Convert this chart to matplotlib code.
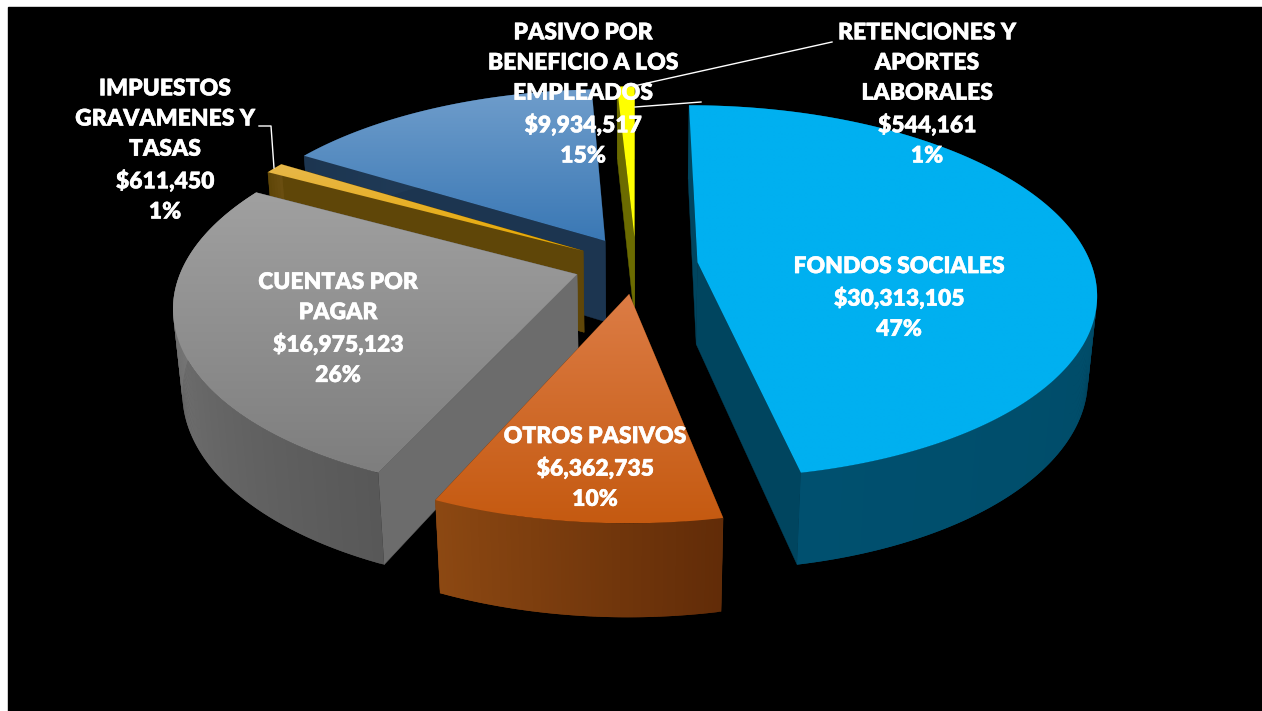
# plot.py
import numpy as np
import matplotlib
matplotlib.use("Agg")
import matplotlib.pyplot as plt
import matplotlib.patheffects as pe
from matplotlib.colors import to_rgb
from matplotlib.patches import Polygon, Rectangle

names = ["FONDOS SOCIALES", "OTROS PASIVOS", "CUENTAS POR\nPAGAR",
         "IMPUESTOS\nGRAVAMENES Y\nTASAS", "PASIVO POR\nBENEFICIO A LOS\nEMPLEADOS",
         "RETENCIONES Y\nAPORTES\nLABORALES"]
values = [30313105, 6362735, 16975123, 611450, 9934517, 544161]

top_colors = [("#00b0f0", "#00b0f0"), ("#dc7c45", "#c55a11"), ("#a0a0a0", "#7e7e7e"),
              ("#e8b84a", "#e6a800"), ("#6f9dcb", "#3a78b5"), ("#ffff00", "#ffff00")]
wall_colors = [("#00465f", "#00506f"), ("#622c08", "#8c4812"), ("#585858", "#828282"),
               ("#5f4608", "#6a4e10"), ("#1c3550", "#24415f"), ("#6b6b00", "#6b6b00")]
cut_colors = ["#00455f", "#7a3c10", "#6c6c6c", "#5f4608", "#1c3550", "#6b6b00"]
label_pos = [(899, 298), (595, 468), (338, 329), (165, 150.5), (583, 94.5), (927, 94.5)]
draw_order = [5, 4, 3, 2, 0, 1]

# camera
CX, CY = 636, 265
A = 394
ELEV = np.radians(27.6)
D = 5.6
HEIGHT = 0.24
EXPLODE = 0.157
START = 0.0


def project(x, y, z):
    depth = D + y * np.cos(ELEV) - z * np.sin(ELEV)
    s = A * D / depth
    return CX + x * s, CY - (y * np.sin(ELEV) + z * np.cos(ELEV)) * s


def mix(c1, c2, t):
    c1, c2 = np.array(to_rgb(c1)), np.array(to_rgb(c2))
    return c1 + (c2 - c1) * t


fig = plt.figure(figsize=(12.62, 7.11), dpi=100, facecolor="white")
ax = fig.add_axes([0, 0, 1, 1])
ax.set_xlim(0, 1262)
ax.set_ylim(711, 0)
ax.axis("off")
ax.add_patch(Rectangle((8, 7), 1254, 704, color="black", zorder=0))

total = sum(values)
edges = START + np.cumsum([0] + values) / total * 360
zo = 1
for i in draw_order:
    a0, a1 = np.radians(edges[i]), np.radians(edges[i + 1])
    mid = (a0 + a1) / 2
    ox, oy = EXPLODE * np.sin(mid), EXPLODE * np.cos(mid)
    th = np.linspace(a0, a1, max(6, int(np.degrees(a1 - a0) * 2)))
    ux, uy = ox + np.sin(th), oy + np.cos(th)

    # cut faces first, then the outer wall, then the top
    for a in (a0, a1):
        ex, ey = ox + np.sin(a), oy + np.cos(a)
        xs, ys = project(np.array([ox, ex, ex, ox]), np.array([oy, ey, ey, oy]),
                         np.array([0, 0, -HEIGHT, -HEIGHT]))
        ax.fill(xs, ys, color=cut_colors[i], lw=0.3, zorder=zo)
    zo += 1
    # quads overlap the next one so no seams show between them
    for k in range(len(th) - 1):
        n = min(k + 2, len(th) - 1)
        xs, ys = project(np.array([ux[k], ux[n], ux[n], ux[k]]),
                         np.array([uy[k], uy[n], uy[n], uy[k]]),
                         np.array([0, 0, -HEIGHT, -HEIGHT]))
        c = mix(wall_colors[i][0], wall_colors[i][1], k / max(1, len(th) - 2))
        ax.fill(xs, ys, facecolor=c, edgecolor="none", zorder=zo)
    zo += 1

    tx, ty = project(np.r_[ox, ux], np.r_[oy, uy], np.zeros(len(ux) + 1))
    poly = Polygon(np.c_[tx, ty], closed=True, facecolor="none", edgecolor="none", zorder=zo)
    ax.add_patch(poly)
    grad = np.linspace(0, 1, 64)
    img = np.array([mix(top_colors[i][0], top_colors[i][1], g) for g in grad])[:, None, :]
    im = ax.imshow(img, extent=(tx.min(), tx.max(), ty.max(), ty.min()), aspect="auto",
                   interpolation="bilinear", zorder=zo)
    im.set_clip_path(poly)
    zo += 1

ax.set_xlim(0, 1262)
ax.set_ylim(711, 0)

# leader lines
ax.plot([259, 271, 274], [126, 126, 168], color="white", lw=1, zorder=50)
ax.plot([634, 832], [86, 42], color="white", lw=1, zorder=50)
ax.plot([635, 701], [107, 102], color="white", lw=1, zorder=50)

for name, v, (lx, ly) in zip(names, values, label_pos):
    txt = f"{name}\n${v:,}\n{round(100 * v / total)}%"
    t = ax.text(lx, ly, txt, color="white", family="Lato", weight=800, fontsize=16.5,
                ha="center", va="center", linespacing=1.54, zorder=60)
    t.set_path_effects([pe.withStroke(linewidth=0.25, foreground="white")])

plt.savefig("out.png", dpi=100)
plt.close()
